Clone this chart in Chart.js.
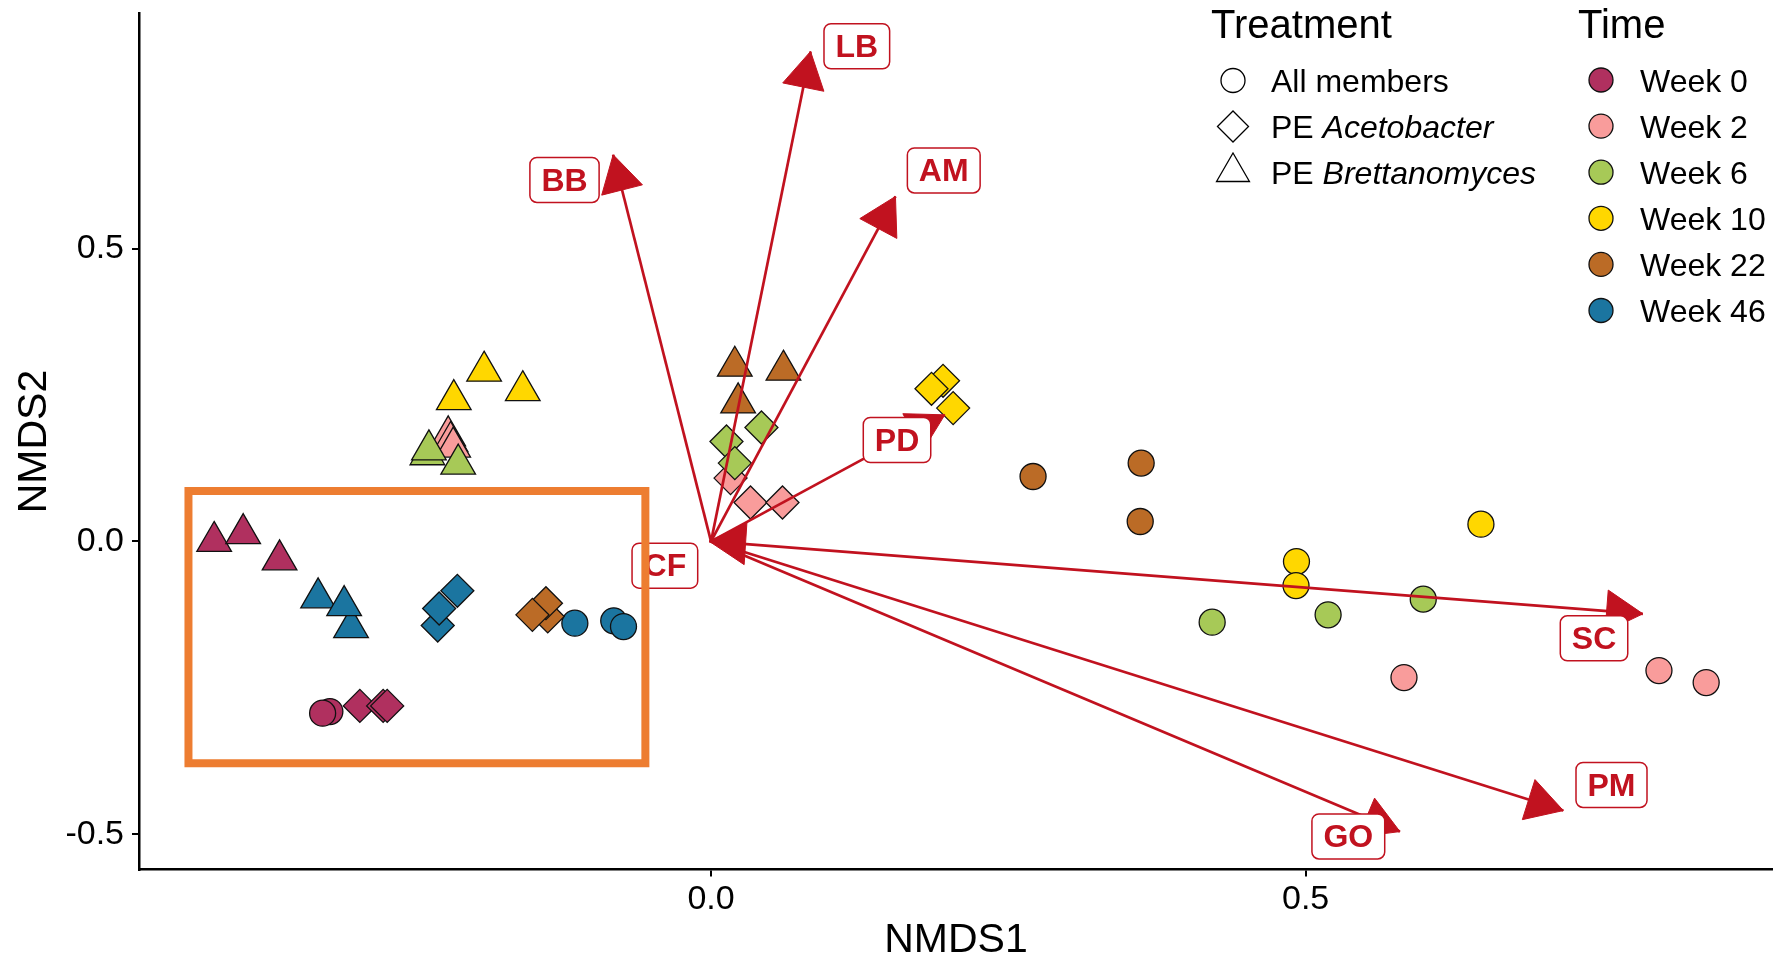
<!DOCTYPE html>
<html>
<head>
<meta charset="utf-8">
<script src="https://cdn.jsdelivr.net/npm/chart.js@4.4.1/dist/chart.umd.min.js"></script>
<style>
  html, body { margin: 0; padding: 0; background: #fff; }
  #wrap { width: 1773px; height: 961px; }
</style>
</head>
<body>
<div id="wrap"><canvas id="nmds"></canvas></div>
<script>
// --- data ---
const weeks = ['Week 0', 'Week 2', 'Week 6', 'Week 10', 'Week 22', 'Week 46'];
const weekColors = ['#B0305F', '#F99C9B', '#A7C957', '#FFD700', '#BB6B26', '#1B75A0'];

// [NMDS1, NMDS2, week index]
const allMembers = [
  [-0.3205, -0.2904, 0], [-0.3266, -0.2932, 0],
  [0.5827, -0.2324, 1], [0.7971, -0.2204, 1], [0.8368, -0.2409, 1],
  [0.4214, -0.1378, 2], [0.5189, -0.1253, 2], [0.5989, -0.0985, 2],
  [0.6474, 0.0295, 3], [0.4923, -0.0343, 3], [0.4919, -0.0753, 3],
  [0.2708, 0.1108, 4], [0.3617, 0.1337, 4], [0.3609, 0.0340, 4],
  [-0.1145, -0.1395, 5], [-0.0818, -0.1356, 5], [-0.0736, -0.1453, 5]
];
const peAcetobacter = [
  [-0.2953, -0.2807, 0], [-0.2757, -0.2807, 0], [-0.2723, -0.2807, 0],
  [0.0164, 0.1081, 1], [0.0332, 0.0665, 1], [0.0601, 0.0665, 1],
  [0.0130, 0.1706, 2], [0.0424, 0.1945, 2], [0.0200, 0.1337, 2],
  [0.1951, 0.2742, 3], [0.1854, 0.2605, 3], [0.2036, 0.2276, 3],
  [-0.1373, -0.1280, 4], [-0.1388, -0.1054, 4], [-0.1502, -0.1253, 4],
  [-0.2298, -0.1435, 5], [-0.2133, -0.0843, 5], [-0.2286, -0.1145, 5]
];
const peBrettanomyces = [
  [-0.4178, 0.0000, 0], [-0.3934, 0.0134, 0], [-0.3628, -0.0314, 0],
  [-0.2210, 0.1803, 1], [-0.2190, 0.1706, 1], [-0.2168, 0.1610, 1],
  [-0.2385, 0.1480, 2], [-0.2372, 0.1564, 2], [-0.2126, 0.1320, 2],
  [-0.1908, 0.2906, 3], [-0.2163, 0.2421, 3], [-0.1583, 0.2573, 3],
  [0.0200, 0.2991, 4], [0.0609, 0.2923, 4], [0.0228, 0.2365, 4],
  [-0.3304, -0.0963, 5], [-0.3027, -0.1472, 5], [-0.3085, -0.1096, 5]
];

// fitted vectors (arrow tips) and where their labels sit
const vectorNames = ['LB', 'BB', 'AM', 'PD', 'CF', 'SC', 'PM', 'GO'];
const vectorX = [0.0837, -0.0823, 0.1551, 0.1966, -0.0015, 0.7836, 0.7167, 0.5793];
const vectorY = [0.8364, 0.6601, 0.5889, 0.2161, 0.0002, -0.1236, -0.4594, -0.4953];
const labelX = [0.1226, -0.1232, 0.1957, 0.1564, -0.0388, 0.7425, 0.7572, 0.5359];
const labelY = [0.8453, 0.6171, 0.6333, 0.1731, -0.0413, -0.1654, -0.4156, -0.5035];

// highlighted region (orange box), data units
const boxX = [-0.4394, -0.0552];
const boxY = [-0.3785, 0.0859];

const xTicks = [0, 0.5];
const yTicks = [-0.5, 0, 0.5];

const FONT = "'Liberation Sans', Arial, sans-serif";
const RED = '#C1121F';
const ORANGE = '#ED7D31';

function pts(arr) {
  return arr.map(p => ({x: p[0], y: p[1]}));
}
function cols(arr) {
  return arr.map(p => weekColors[p[2]]);
}

const datasets = [];

// arrows lines (drawn above points)
vectorNames.forEach((n, i) => {
  datasets.push({
    label: n,
    data: [{x: 0, y: 0}, {x: vectorX[i], y: vectorY[i]}],
    showLine: true,
    borderColor: RED,
    borderWidth: 2.7,
    pointRadius: 0,
    order: 1
  });
});

// points
[[peBrettanomyces, 'triangle', 20], [peAcetobacter, 'rectRot', 16.5], [allMembers, 'circle', 13]].forEach(([arr, style, r]) => {
  datasets.push({
    data: pts(arr),
    pointStyle: style,
    pointRadius: r,
    backgroundColor: cols(arr),
    borderColor: '#111',
    borderWidth: 1.3,
    showLine: false,
    order: 5
  });
});

// shapes for the legend
function shapePath(ctx, style, x, y, r) {
  ctx.beginPath();
  if (style === 'circle') {
    ctx.arc(x, y, r, 0, Math.PI * 2);
  } else if (style === 'diamond') {
    ctx.moveTo(x - r, y); ctx.lineTo(x, y - r); ctx.lineTo(x + r, y); ctx.lineTo(x, y + r);
    ctx.closePath();
  } else {
    const w = r * Math.sin(Math.PI / 3);
    ctx.moveTo(x, y - r); ctx.lineTo(x + w, y + r / 2); ctx.lineTo(x - w, y + r / 2);
    ctx.closePath();
  }
}

const overlay = {
  id: 'overlay',
  afterDatasetsDraw(chart) {
    const {ctx, scales: {x, y}} = chart;
    ctx.save();
    const x0 = x.getPixelForValue(0), y0 = y.getPixelForValue(0);

    // arrow heads
    vectorNames.forEach((n, i) => {
      const x1 = x.getPixelForValue(vectorX[i]), y1 = y.getPixelForValue(vectorY[i]);
      const ang = Math.atan2(y1 - y0, x1 - x0);
      const len = 42, spread = Math.PI / 6;
      ctx.beginPath();
      ctx.moveTo(x1, y1);
      ctx.lineTo(x1 - len * Math.cos(ang - spread), y1 - len * Math.sin(ang - spread));
      ctx.lineTo(x1 - len * Math.cos(ang + spread), y1 - len * Math.sin(ang + spread));
      ctx.closePath();
      ctx.fillStyle = RED;
      ctx.strokeStyle = RED;
      ctx.lineWidth = 1;
      ctx.fill();
      ctx.stroke();
    });

    // labels
    ctx.font = 'bold 32px ' + FONT;
    ctx.textAlign = 'center';
    ctx.textBaseline = 'middle';
    vectorNames.forEach((n, i) => {
      const cx = x.getPixelForValue(labelX[i]), cy = y.getPixelForValue(labelY[i]);
      const w = ctx.measureText(n).width + 23, h = 45;
      ctx.beginPath();
      ctx.roundRect(cx - w / 2, cy - h / 2, w, h, 7);
      ctx.fillStyle = '#fff';
      ctx.fill();
      ctx.lineWidth = 1.5;
      ctx.strokeStyle = RED;
      ctx.stroke();
      ctx.fillStyle = RED;
      ctx.fillText(n, cx, cy + 2);
    });

    // orange box
    ctx.beginPath();
    const bx1 = x.getPixelForValue(boxX[0]), bx2 = x.getPixelForValue(boxX[1]);
    const by1 = y.getPixelForValue(boxY[1]), by2 = y.getPixelForValue(boxY[0]);
    ctx.rect(bx1, by1, bx2 - bx1, by2 - by1);
    ctx.lineWidth = 8;
    ctx.lineJoin = 'miter';
    ctx.strokeStyle = ORANGE;
    ctx.stroke();
    ctx.restore();
  },
  afterDraw(chart) {
    const ctx = chart.ctx;
    ctx.save();
    ctx.fillStyle = '#000';
    ctx.textAlign = 'left';
    ctx.textBaseline = 'alphabetic';
    ctx.font = '40px ' + FONT;
    ctx.fillText('Treatment', 1211, 38);
    ctx.fillText('Time', 1578, 38);

    // treatment keys
    const tRows = [80.5, 126.5, 172];
    const tStyles = ['circle', 'diamond', 'triangle'];
    const tSizes = [12, 15.5, 19];
    tStyles.forEach((s, i) => {
      shapePath(ctx, s, 1233, tRows[i], tSizes[i]);
      ctx.fillStyle = '#fff';
      ctx.fill();
      ctx.lineWidth = 1.3;
      ctx.strokeStyle = '#000';
      ctx.stroke();
    });
    ctx.fillStyle = '#000';
    const base = 11.5;
    ctx.font = '32px ' + FONT;
    ctx.fillText('All members', 1271, tRows[0] + base);
    const italics = ['Acetobacter', 'Brettanomyces'];
    italics.forEach((t, i) => {
      ctx.font = '32px ' + FONT;
      ctx.fillText('PE ', 1271, tRows[i + 1] + base);
      const w = ctx.measureText('PE ').width;
      ctx.font = 'italic 32px ' + FONT;
      ctx.fillText(t, 1271 + w, tRows[i + 1] + base);
    });

    // time keys
    ctx.font = '32px ' + FONT;
    weeks.forEach((wk, i) => {
      const yy = 80 + i * 46.1;
      shapePath(ctx, 'circle', 1601, yy, 12);
      ctx.fillStyle = weekColors[i];
      ctx.fill();
      ctx.lineWidth = 1.3;
      ctx.strokeStyle = '#111';
      ctx.stroke();
      ctx.fillStyle = '#000';
      ctx.fillText(wk, 1640, yy + base);
    });
    ctx.restore();
  }
};

new Chart(document.getElementById('nmds'), {
  type: 'scatter',
  data: {datasets},
  options: {
    responsive: true,
    maintainAspectRatio: false,
    animation: false,
    events: [],
    layout: {autoPadding: false, padding: {top: 13.6, left: 0, right: 0, bottom: 0}},
    plugins: {legend: {display: false}, tooltip: {enabled: false}},
    scales: {
      x: {
        type: 'linear',
        min: -0.481,
        max: 0.893,
        afterBuildTicks: s => { s.ticks = xTicks.map(v => ({value: v})); },
        afterFit: s => { s.height = 91.5; s.paddingLeft = 0; s.paddingRight = 0; },
        border: {display: true, color: '#000', width: 2.5},
        grid: {drawOnChartArea: false, drawTicks: true, tickLength: 7, color: '#000', lineWidth: 2},
        ticks: {font: {family: FONT, size: 34}, color: '#000', padding: 3, maxRotation: 0,
                callback: v => v.toFixed(1)},
        title: {display: true, text: 'NMDS1', color: '#000', padding: 0,
                font: {family: FONT, size: 41, lineHeight: 1}}
      },
      y: {
        type: 'linear',
        min: -0.56,
        max: 0.901,
        afterBuildTicks: s => { s.ticks = yTicks.map(v => ({value: v})); },
        afterFit: s => { s.width = 139; s.paddingTop = 0; s.paddingBottom = 0; },
        border: {display: true, color: '#000', width: 2.5},
        grid: {drawOnChartArea: false, drawTicks: true, tickLength: 7, color: '#000', lineWidth: 2},
        ticks: {font: {family: FONT, size: 34}, color: '#000', padding: 8,
                callback: v => v.toFixed(1)},
        title: {display: true, text: 'NMDS2', color: '#000', padding: {top: 14, bottom: 0},
                font: {family: FONT, size: 41, lineHeight: 1}}
      }
    }
  },
  plugins: [overlay]
});
</script>
</body>
</html>
